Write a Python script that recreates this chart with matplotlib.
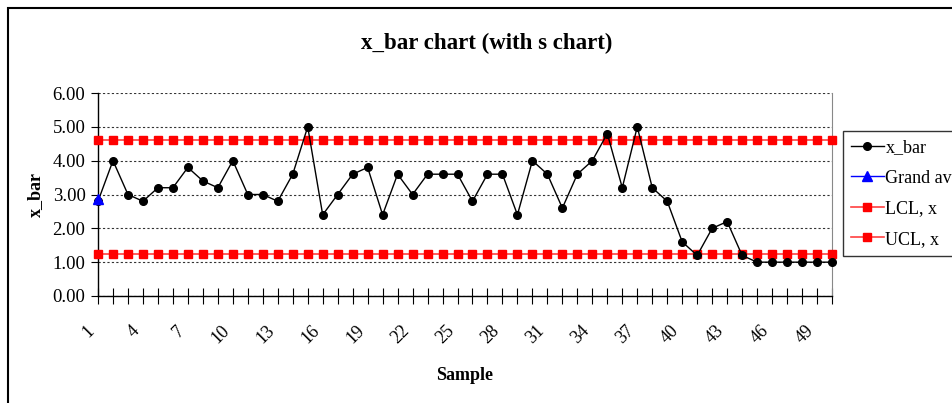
import matplotlib.pyplot as plt
import matplotlib.transforms as mtransforms
from matplotlib.patches import Rectangle

# sample numbers and subgroup means
samples = list(range(1, 51))
x_bar = [2.8, 4.0, 3.0, 2.8, 3.2, 3.2, 3.8, 3.4, 3.2, 4.0,
         3.0, 3.0, 2.8, 3.6, 5.0, 2.4, 3.0, 3.6, 3.8, 2.4,
         3.6, 3.0, 3.6, 3.6, 3.6, 2.8, 3.6, 3.6, 2.4, 4.0,
         3.6, 2.6, 3.6, 4.0, 4.8, 3.2, 5.0, 3.2, 2.8, 1.6,
         1.2, 2.0, 2.2, 1.2, 1.0, 1.0, 1.0, 1.0, 1.0, 1.0]
grand_avg_x = [1]
grand_avg = [2.88]
lcl = [1.25] * 50
ucl = [4.62] * 50
y_ticks = [0, 1, 2, 3, 4, 5, 6]
x_tick_labels = list(range(1, 51, 3))

plt.rcParams["font.family"] = ["Liberation Serif", "DejaVu Serif"]

fig = plt.figure(figsize=(9.53, 4.03), dpi=100)
ax = fig.add_axes([98 / 953, 1 - 296 / 403, (832 - 98) / 953, (296 - 93) / 403])

ax.plot(samples, x_bar, color="black", lw=1, marker="o", markersize=5.5,
        label="x_bar", clip_on=False, zorder=4)
ax.plot(grand_avg_x, grand_avg, color="blue", lw=1, marker="^", markersize=6.5,
        label="Grand avg", clip_on=False, zorder=5)
ax.plot(samples, lcl, color="#ff4040", lw=1.2, marker="s", markersize=5.8,
        markerfacecolor="red", markeredgecolor="red", label="LCL, x",
        clip_on=False, zorder=3)
ax.plot(samples, ucl, color="#ff4040", lw=1.2, marker="s", markersize=5.8,
        markerfacecolor="red", markeredgecolor="red", label="UCL, x",
        clip_on=False, zorder=3)

ax.set_xlim(1, 50)
ax.set_ylim(0, 6)
ax.set_yticks(y_ticks)
ax.set_yticklabels([f"{v:.2f}" for v in y_ticks], fontsize=13.5)
ax.set_xticks(samples, minor=True)
ax.set_xticks(x_tick_labels)
ax.set_xticklabels([str(v) for v in x_tick_labels], fontsize=13, rotation=45, ha="right")
offset = mtransforms.ScaledTranslation(-4 / 100, 0, fig.dpi_scale_trans)
for lab in ax.get_xticklabels():
    lab.set_transform(lab.get_transform() + offset)
ax.tick_params(axis="x", which="both", direction="inout", length=12, width=0.8, pad=13)
ax.tick_params(axis="y", direction="out", length=5, width=0.8, pad=4)

ax.grid(axis="y", color="#333333", linestyle=(0, (2, 2)), lw=0.8)
ax.set_axisbelow(True)
ax.spines["top"].set_visible(False)
ax.spines["right"].set_color("#888888")
ax.spines["left"].set_linewidth(1)
ax.spines["bottom"].set_linewidth(1)

ax.set_xlabel("Sample", fontsize=13, fontweight="bold", labelpad=14)
ax.set_ylabel("x_bar", fontsize=13, fontweight="bold", labelpad=6)
fig.text(487 / 953, 1 - 43 / 403, "x_bar chart (with s chart)", fontsize=16.5,
         fontweight="bold", ha="center", va="center")

leg = ax.legend(loc="upper left", bbox_to_anchor=(843 / 953, 1 - 131 / 403),
                bbox_transform=fig.transFigure, fontsize=13, frameon=True,
                fancybox=False, edgecolor="black", handlelength=1.8,
                handletextpad=0.1, labelspacing=0.75, borderpad=0.45,
                borderaxespad=0)
leg.get_frame().set_linewidth(1)

fig.patches.append(Rectangle((8 / 953, -0.5), 2, 0.5 + 1 - 8 / 403, fill=False,
                             lw=1.5, edgecolor="black", transform=fig.transFigure))

fig.savefig("out.png", dpi=100)
